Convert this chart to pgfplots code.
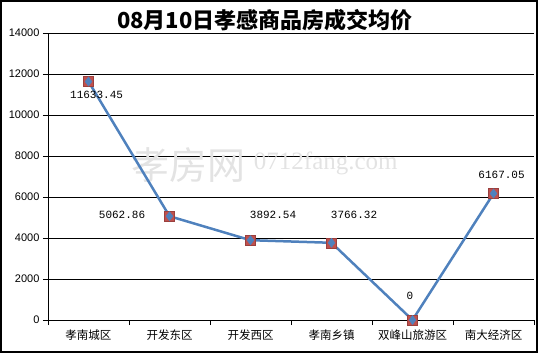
\documentclass[border=0pt]{standalone}
\usepackage{pgfplots}
\pgfplotsset{compat=1.18}
\usepackage{fontspec}
\setmainfont{Liberation Sans}
\newfontfamily\cjk{Noto Sans CJK SC}
\newfontfamily\mono{Liberation Mono}
\newfontfamily\wmserif{Liberation Serif}
\definecolor{lblue}{HTML}{4F81BD}
\definecolor{lred}{HTML}{C0504D}
\begin{document}
\begin{tikzpicture}
\begin{axis}[name=ax, scale only axis, width=486pt, height=287pt,
  xmin=-0.5, xmax=5.5, ymin=0, ymax=14000,
  axis x line*=bottom, axis y line*=left,
  axis line style={black, line width=0.8pt, -},
  ytick={0,2000,...,14000}, ymajorgrids,
  grid style={black, line width=0.8pt},
  xtick={-0.5,0.5,...,5.5}, x tick label as interval,
  xticklabels={孝南城区,开发东区,开发西区,孝南乡镇,双峰山旅游区,南大经济区},
  tick align=outside, major tick length=5pt,
  tick style={black, line width=0.8pt},
  scaled y ticks=false,
  /pgf/number format/assume math mode=true,
  /pgf/number format/1000 sep={},
  yticklabel style={font=\fontsize{11}{11}\selectfont},
  xticklabel style={font=\cjk\fontsize{11.5}{12}\selectfont, yshift=-1pt},
  clip=false]
\node[text=gray!22, font=\cjk\fontsize{38}{38}\selectfont] at (axis cs:1.23,7560) {孝房网};
\node[text=gray!22, font=\wmserif\fontsize{25}{25}\selectfont] at (axis cs:2.93,7650) {0712fang.com};
\addplot[only marks, mark=square*, mark size=5pt, mark options={fill=lred, draw=lred!80!black}]
  coordinates {(0,11633.45) (1,5062.86) (2,3892.54) (3,3766.32) (4,0) (5,6167.05)};
\addplot[lblue, line width=2.5pt, mark=diamond*, mark size=4.5pt, mark options={fill=lblue, draw=lblue, line width=0.5pt}]
  coordinates {(0,11633.45) (1,5062.86) (2,3892.54) (3,3766.32) (4,0) (5,6167.05)};
\begin{scope}[every node/.style={font=\mono\fontsize{11}{11}\selectfont}]
\node at (axis cs:0.10,10976) {11633.45};
\node at (axis cs:0.414,5122) {5062.86};
\node at (axis cs:2.278,5122) {3892.54};
\node at (axis cs:3.278,5122) {3766.32};
\node at (axis cs:3.969,1171) {0};
\node at (axis cs:5.10,7073) {6167.05};
\end{scope}
\node[font=\cjk\bfseries\fontsize{22}{22}\selectfont] at (rel axis cs:0.4465,1.045) {08月10日孝感商品房成交均价};
\end{axis}
\draw[line width=2pt] ([shift={(-47pt,-32pt)}]ax.south west) rectangle ([shift={(3pt,32pt)}]ax.north east);
\end{tikzpicture}
\end{document}
